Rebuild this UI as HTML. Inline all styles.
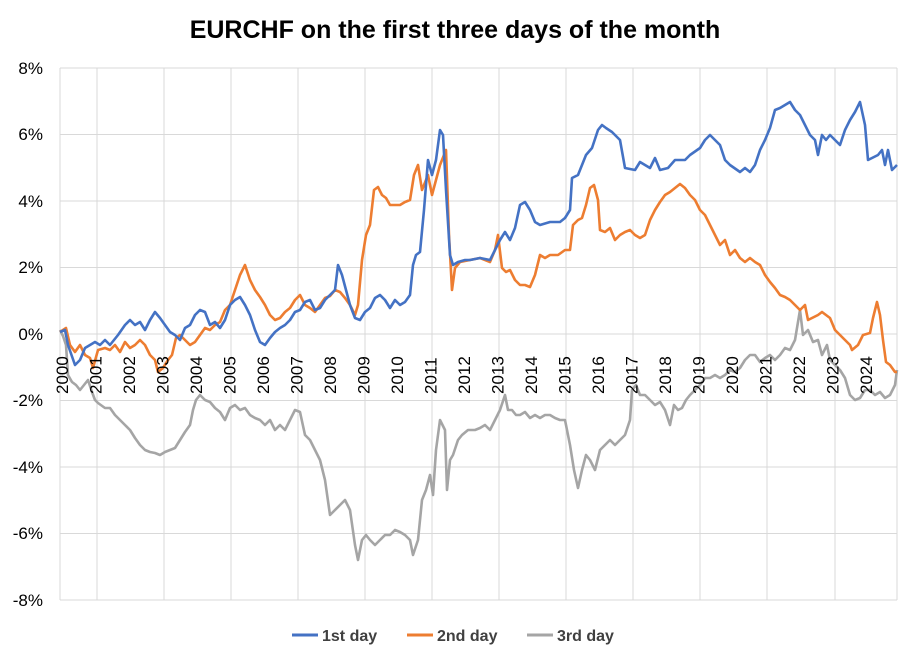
<!DOCTYPE html>
<html><head><style>body{margin:0;background:#fff}svg{display:block}text{font-family:"Liberation Sans",sans-serif}</style></head><body>
<svg width="911" height="662" xmlns="http://www.w3.org/2000/svg">
<rect width="911" height="662" fill="#fff"/>
<text x="455" y="38" text-anchor="middle" font-size="25" font-weight="bold" fill="#000">EURCHF on the first three days of the month</text>
<g stroke="#d9d9d9" stroke-width="1">
<line x1="60" y1="68" x2="897" y2="68"/><line x1="60" y1="134.5" x2="897" y2="134.5"/><line x1="60" y1="201" x2="897" y2="201"/><line x1="60" y1="267.5" x2="897" y2="267.5"/><line x1="60" y1="334" x2="897" y2="334"/><line x1="60" y1="400.5" x2="897" y2="400.5"/><line x1="60" y1="467" x2="897" y2="467"/><line x1="60" y1="533.5" x2="897" y2="533.5"/><line x1="60" y1="600" x2="897" y2="600"/>
<line x1="60" y1="68" x2="60" y2="600"/><line x1="97" y1="68" x2="97" y2="600"/><line x1="164" y1="68" x2="164" y2="600"/><line x1="231" y1="68" x2="231" y2="600"/><line x1="298" y1="68" x2="298" y2="600"/><line x1="365" y1="68" x2="365" y2="600"/><line x1="432" y1="68" x2="432" y2="600"/><line x1="499" y1="68" x2="499" y2="600"/><line x1="566" y1="68" x2="566" y2="600"/><line x1="633" y1="68" x2="633" y2="600"/><line x1="700" y1="68" x2="700" y2="600"/><line x1="767" y1="68" x2="767" y2="600"/><line x1="835" y1="68" x2="835" y2="600"/><line x1="897" y1="68" x2="897" y2="600"/>
</g>
<g font-size="17" text-anchor="end" fill="#000">
<text x="43" y="74">8%</text><text x="43" y="140">6%</text><text x="43" y="207">4%</text><text x="43" y="273">2%</text><text x="43" y="340">0%</text><text x="43" y="406">-2%</text><text x="43" y="473">-4%</text><text x="43" y="539">-6%</text><text x="43" y="606">-8%</text>
</g>
<g fill="none" stroke-width="2.6" stroke-linejoin="round">
<polyline stroke="#a5a5a5" points="60,330 63,336 66,345 68,375 72,382 76,385 80,390 84,385 88,380 92,392 95,400 98,403 105,408 110,408 115,415 120,420 125,425 130,430 135,438 140,445 145,450 150,452 155,453 160,455 165,452 170,450 175,448 180,440 185,432 190,425 193,410 196,400 200,395 205,400 210,402 215,408 220,412 225,420 230,408 235,405 240,410 245,408 250,415 255,418 260,420 265,425 270,420 275,430 280,425 285,430 290,420 295,410 300,412 305,435 310,440 315,450 320,460 325,480 330,515 335,510 340,505 345,500 350,510 355,545 358,560 362,540 366,535 370,540 375,545 380,540 385,535 390,535 395,530 400,532 405,535 410,540 413,555 418,540 422,500 426,490 430,475 433,495 436,450 440,420 445,430 447,490 450,460 453,455 458,440 462,435 468,430 475,430 480,428 485,425 490,430 495,420 500,410 505,395 508,410 512,410 516,415 520,415 525,412 530,418 535,415 540,418 545,415 550,415 555,418 560,420 565,420 570,445 574,470 578,488 582,470 586,455 590,460 595,470 600,450 605,445 610,440 615,445 620,440 625,435 630,420 632,390 636,385 640,395 645,395 650,400 655,405 660,402 665,410 670,425 674,405 678,410 682,408 686,400 690,395 695,390 700,385 705,378 710,378 715,375 720,378 725,375 730,370 735,372 740,368 745,360 750,355 755,355 760,362 765,358 770,355 775,360 780,355 785,348 790,350 795,340 800,310 803,335 808,330 813,342 818,340 822,355 827,345 830,360 835,365 840,370 845,378 850,395 855,400 860,398 865,390 870,390 875,395 880,392 885,398 890,395 895,385 897,370"/>
<polyline stroke="#ed7d31" points="60,332 63,330 66,328 70,345 75,352 80,345 85,355 90,358 93,368 98,350 105,348 110,350 115,345 120,352 125,342 130,348 135,345 140,340 145,345 150,355 155,360 158,372 163,368 168,360 172,355 176,338 180,335 185,340 190,345 195,342 200,335 205,328 210,330 215,325 220,322 225,310 230,305 235,290 240,275 245,265 250,280 255,290 260,297 265,305 270,315 275,320 280,318 285,312 290,308 295,300 300,295 305,305 310,308 315,312 320,305 325,298 330,296 335,290 340,292 345,298 350,305 355,315 358,305 362,260 366,235 370,225 374,190 378,187 382,195 386,198 390,205 395,205 400,205 405,202 410,200 414,175 418,165 422,190 428,175 432,195 436,180 440,165 446,150 449,235 452,290 455,268 460,262 470,260 480,258 490,262 495,250 498,235 502,268 506,272 510,270 515,280 520,285 525,285 530,287 535,275 540,255 545,258 550,255 558,255 565,250 570,250 573,225 578,220 582,218 586,205 590,188 594,185 598,200 600,230 605,232 610,228 615,240 620,235 625,232 630,230 635,235 640,238 645,235 650,220 655,210 660,202 665,195 670,192 675,188 680,184 685,188 690,195 695,200 700,210 705,215 710,225 715,235 720,245 725,240 730,255 735,250 740,258 745,262 750,258 755,262 760,265 765,275 770,282 775,288 780,295 785,297 790,300 795,305 800,310 805,305 808,320 812,318 818,315 822,312 826,315 830,318 835,330 840,335 845,340 850,345 852,350 858,345 863,335 870,333 873,318 877,302 880,315 883,340 886,362 890,365 895,372 897,372"/>
<polyline stroke="#4472c4" points="60,332 65,330 68,345 75,365 80,360 85,348 90,345 95,342 100,345 105,340 110,345 118,335 125,325 130,320 135,325 140,322 145,330 150,320 155,312 160,318 165,325 170,332 175,335 180,340 185,328 190,325 195,315 200,310 205,312 210,325 215,322 220,328 225,320 230,305 235,300 240,297 245,305 250,315 255,330 260,342 265,345 270,338 275,332 280,328 285,325 290,320 295,312 300,310 305,302 310,300 315,310 320,308 325,300 330,295 335,290 338,265 342,275 346,290 350,305 355,318 360,320 365,312 370,308 375,298 380,295 385,300 390,308 395,300 400,305 405,302 410,295 413,265 416,255 420,252 424,210 428,160 432,175 436,160 440,130 443,135 446,190 450,255 453,265 458,262 465,260 470,260 480,258 490,260 495,250 500,240 505,232 510,240 515,228 520,205 525,202 530,210 535,222 540,225 550,222 560,222 565,218 570,210 572,178 578,175 582,165 586,155 592,148 598,130 602,125 606,128 612,132 620,140 625,168 635,170 640,162 645,165 650,168 655,158 660,170 668,168 675,160 685,160 690,155 700,148 705,140 710,135 715,140 720,145 725,160 730,165 740,172 745,168 750,172 755,165 760,150 765,140 770,128 775,110 780,108 785,105 790,102 795,110 800,115 805,125 810,135 815,140 818,155 822,135 826,140 830,135 835,140 840,145 845,130 850,120 855,112 860,102 865,125 868,160 872,158 878,155 882,150 885,165 888,150 892,170 897,165"/>
</g>
<g font-size="17" fill="#000">
<text transform="translate(68,394) rotate(-90)">2000</text><text transform="translate(101.5,394) rotate(-90)">2001</text><text transform="translate(135,394) rotate(-90)">2002</text><text transform="translate(168.5,394) rotate(-90)">2003</text><text transform="translate(202,394) rotate(-90)">2004</text><text transform="translate(235.5,394) rotate(-90)">2005</text><text transform="translate(269,394) rotate(-90)">2006</text><text transform="translate(302.5,394) rotate(-90)">2007</text><text transform="translate(336,394) rotate(-90)">2008</text><text transform="translate(369.5,394) rotate(-90)">2009</text><text transform="translate(403,394) rotate(-90)">2010</text><text transform="translate(436.5,394) rotate(-90)">2011</text><text transform="translate(470,394) rotate(-90)">2012</text><text transform="translate(503.5,394) rotate(-90)">2013</text><text transform="translate(537,394) rotate(-90)">2014</text><text transform="translate(570.5,394) rotate(-90)">2015</text><text transform="translate(604,394) rotate(-90)">2016</text><text transform="translate(637.5,394) rotate(-90)">2017</text><text transform="translate(671,394) rotate(-90)">2018</text><text transform="translate(704.5,394) rotate(-90)">2019</text><text transform="translate(738,394) rotate(-90)">2020</text><text transform="translate(771.5,394) rotate(-90)">2021</text><text transform="translate(805,394) rotate(-90)">2022</text><text transform="translate(838.5,394) rotate(-90)">2023</text><text transform="translate(872,394) rotate(-90)">2024</text>
</g>
<g font-size="16" font-weight="bold" fill="#404040">
<line x1="292" y1="635" x2="318" y2="635" stroke="#4472c4" stroke-width="3"/><text x="322" y="641">1st day</text>
<line x1="407" y1="635" x2="433" y2="635" stroke="#ed7d31" stroke-width="3"/><text x="437" y="641">2nd day</text>
<line x1="527" y1="635" x2="553" y2="635" stroke="#a5a5a5" stroke-width="3"/><text x="557" y="641">3rd day</text>
</g>
</svg>
</body></html>
